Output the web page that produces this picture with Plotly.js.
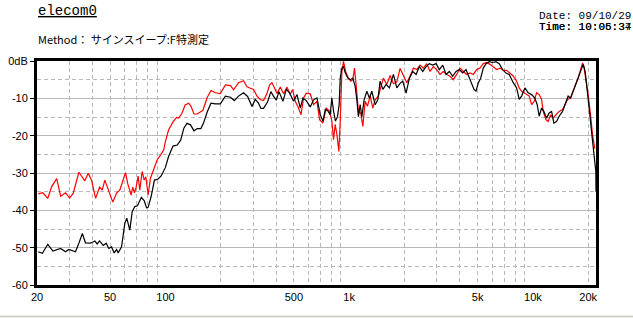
<!DOCTYPE html>
<html>
<head>
<meta charset="utf-8">
<script src="https://cdn.plot.ly/plotly-3.0.1.min.js"></script>
<style>html,body{margin:0;padding:0;background:#fff;}#chart{width:633px;height:318px;}</style>
</head>
<body>
<div id="chart"></div>
<script>
// ---- data ----
const redFreq = [20.3,21.5,22.9,24.0,25.6,26.9,28.6,30.1,31.5,33.8,36.4,38.0,39.6,41.7,43.8,45.3,46.8,49.2,51.7,54.2,56.4,58.2,60.6,62.4,65.1,66.4,67.8,69.3,71.0,72.5,74.7,76.6,78.2,80.5,82.9,86.4,90.1,94.5,97.9,100,104,110,115,118,123,128,134,138,143,149,155,160,169,177,187,199,212,226,235,250,266,278,290,302,315,328,342,357,369,380,393,405,422,440,459,478,492,509,530,547,565,584,614,640,668,690,720,750,782,805,822,839,857,879,894,913,931,960,991,1021,1047,1069,1091,1123,1157,1187,1222,1258,1301,1345,1385,1443,1487,1537,1603,1671,1741,1817,1893,1973,2059,2146,2237,2334,2432,2534,2645,2755,2872,2997,3123,3255,3396,3539,3688,3848,4011,4180,4362,4546,4737,4943,5152,5370,5603,5839,6085,6349,6618,6896,7196,7499,7815,8155,8424,8681,8935,9242,9548,9838,10160,10470,10820,11150,11380,11770,12110,12480,12890,13340,13900,14500,14930,15440,16030,16560,17130,17630,18170,18630,18930,19410,19980,20590,21110,21730];
const redDb = [-35.6,-35.3,-36.8,-33.7,-31.5,-36.2,-35.3,-36.7,-35.4,-29.8,-32.1,-30.1,-31.9,-36.8,-33.8,-34.6,-31.9,-34.6,-37.8,-35.4,-34.6,-32.6,-29.9,-32.9,-35.9,-33.8,-35.3,-33.8,-30.8,-34.6,-29.6,-31.9,-31.0,-35.9,-31.4,-29.0,-26.5,-25.0,-23.8,-21.5,-18.5,-16.3,-15.1,-15.3,-14.0,-11.8,-11.3,-12.2,-14.2,-14.2,-13.6,-13.2,-9.7,-7.9,-8.5,-8.7,-6.4,-6.6,-7.7,-5.8,-5.3,-6.9,-7.3,-7.6,-9.4,-10.3,-10.6,-8.7,-6.4,-5.8,-7.3,-8.7,-7.0,-8.8,-7.0,-9.0,-7.6,-10.8,-12.6,-14.4,-9.9,-8.6,-8.8,-11.7,-10.8,-15.7,-16.6,-12.6,-13.4,-16.1,-21.1,-17.0,-19.6,-24.2,-16.1,-2.8,-0.1,-3.1,-4.6,-5.4,-5.0,-1.9,-6.3,-13.5,-14.0,-17.5,-10.8,-12.1,-9.4,-12.6,-10.4,-9.4,-7.0,-4.6,-6.3,-3.9,-6.1,-5.6,-2.0,-3.8,-5.8,-4.1,-1.9,-2.3,-1.1,-1.9,-0.7,-2.8,-1.5,-2.3,-3.6,-2.8,-3.6,-4.1,-5.0,-3.6,-1.9,-2.8,-3.6,-3.2,-3.6,-2.3,-1.9,-0.7,-0.4,-0.9,-1.5,-2.3,-1.9,-2.5,-2.5,-3.2,-4.0,-5.4,-7.2,-8.1,-8.5,-9.0,-9.4,-11.7,-10.8,-8.5,-9.0,-10.3,-13.5,-15.7,-16.2,-14.4,-15.3,-14.4,-13.5,-13.0,-11.7,-10.3,-9.9,-8.1,-6.7,-4.6,-2.3,-0.5,-1.4,-4.6,-9.0,-14.4,-19.7,-23.5];

const blackFreq = [20.3,21.4,22.9,24.4,26.9,28.6,29.8,32.4,33.8,35.3,36.7,39.1,41.3,42.5,43.8,45.9,47.6,49.2,50.9,52.6,54.2,55.3,57.7,60.1,61.6,64.0,65.9,68.1,70.4,74.0,76.6,78.9,80.5,83.6,87.1,91.3,94.8,100,104,110,116,121,126,131,137,143,149,156,161,169,177,187,199,212,226,237,250,266,280,296,308,321,331,342,360,375,388,401,415,425,436,455,474,498,520,542,560,584,614,640,668,696,720,741,766,788,805,822,842,864,882,894,913,931,951,984,1013,1047,1078,1101,1123,1148,1172,1206,1248,1289,1328,1385,1432,1474,1525,1589,1656,1741,1817,1893,1958,2041,2127,2220,2313,2411,2515,2622,2732,2851,2971,3096,3231,3367,3509,3661,3815,3977,4149,4324,4506,4644,4780,4900,5043,5197,5370,5554,5788,6039,6294,6560,6844,7134,7433,7815,8155,8424,8681,9047,9430,9838,10250,10550,10820,11150,11470,11870,12260,12640,13000,13450,13900,14500,15110,15550,16030,16560,17130,17630,18170,18770,19240,19730,20230,20840,21460,22000,22050];
const blackDb = [-51.1,-51.5,-49.1,-50.9,-50.2,-51.1,-50.5,-51.1,-48.8,-46.2,-48.7,-48.8,-48.2,-49.0,-48.2,-49.4,-48.8,-50.2,-49.8,-51.4,-50.5,-51.4,-49.8,-43.5,-42.1,-45.3,-40.4,-39.0,-38.8,-36.5,-37.4,-39.3,-39.2,-36.3,-31.9,-31.6,-30.8,-28.5,-25.6,-22.8,-22.5,-21.2,-18.0,-16.7,-17.1,-18.7,-18.1,-18.1,-16.7,-13.6,-11.3,-11.5,-11.5,-9.4,-9.7,-10.6,-9.4,-8.5,-9.5,-12.2,-10.3,-11.3,-12.7,-12.7,-10.9,-8.2,-9.5,-10.5,-8.2,-9.7,-10.8,-7.6,-8.5,-10.8,-9.0,-12.6,-9.9,-10.6,-12.3,-10.4,-9.9,-14.4,-16.1,-13.0,-13.4,-14.4,-9.9,-13.4,-16.1,-14.9,-11.7,-4.6,-1.9,-1.5,-3.1,-4.6,-5.0,-4.6,-6.8,-10.4,-14.9,-11.7,-14.9,-10.4,-8.1,-9.9,-8.1,-11.7,-10.4,-5.4,-7.6,-6.3,-7.2,-3.6,-7.2,-6.0,-5.4,-8.6,-4.6,-2.8,-3.6,-1.5,-2.8,-1.5,-0.7,-1.1,-0.7,-2.3,-1.1,-3.6,-2.8,-4.1,-2.8,-2.3,-3.2,-2.3,-4.6,-6.3,-7.6,-8.1,-5.9,-4.6,-1.9,-0.7,-0.2,-0.4,-0.2,-0.7,-2.3,-3.2,-3.6,-5.8,-7.2,-10.3,-9.4,-7.2,-8.5,-9.0,-9.9,-11.7,-14.8,-12.6,-13.5,-15.3,-13.9,-13.5,-16.6,-16.2,-14.8,-13.5,-10.8,-9.4,-9.9,-8.1,-6.3,-4.6,-2.7,-0.9,-2.7,-7.2,-12.6,-18.8,-24.1,-29.6,-35.0];

const xLabelVals = [20,50,100,500,1000,5000,10000,20000];
const xLabelText = ['20','50','100','500','1k','5k','10k','20k'];
const xSolidGrid = [100,1000,10000];
const xDashGrid = [30,40,50,60,70,80,90,200,300,400,500,600,700,800,900,2000,3000,4000,5000,6000,7000,8000,9000,20000];
const yTickVals = [0,-10,-20,-30,-40,-50,-60];
const yTickText = ['0dB','-10','-20','-30','-40','-50','-60'];
const yDashGrid = [-5,-15,-25,-35,-45,-55];

const GRID = '#b8b8b8';
const XR = [Math.log10(20), Math.log10(22050)];

const traces = [
  {x: redFreq, y: redDb, type: 'scatter', mode: 'lines', line: {color: '#ff0000', width: 1.2}, hoverinfo: 'skip'},
  {x: blackFreq, y: blackDb, type: 'scatter', mode: 'lines', line: {color: '#000000', width: 1.2}, hoverinfo: 'skip'}
];

const layout = {
  width: 633, height: 318,
  margin: {l: 37, r: 37, t: 61, b: 33},
  paper_bgcolor: '#ffffff', plot_bgcolor: '#ffffff',
  showlegend: false,
  font: {family: 'Liberation Sans, Arial, sans-serif', size: 11, color: '#000'},
  xaxis: {
    type: 'log', range: XR,
    tickmode: 'array', tickvals: xLabelVals, ticktext: xLabelText,
    showgrid: false, zeroline: false,
    showline: true, mirror: true, linecolor: '#000', linewidth: 3,
    ticks: '', tickfont: {family: 'Liberation Sans, Arial, sans-serif', size: 11},
    minor: {tickmode: 'array', tickvals: xDashGrid, showgrid: true, gridcolor: GRID, griddash: '4px,3px', gridwidth: 1, ticks: ''}
  },
  xaxis2: {
    type: 'log', range: XR, overlaying: 'x', anchor: 'y', side: 'bottom',
    tickmode: 'array', tickvals: xSolidGrid, showticklabels: false,
    showgrid: true, gridcolor: GRID, gridwidth: 1, zeroline: false, showline: false, ticks: ''
  },
  yaxis: {
    range: [-60, 0],
    tickmode: 'array', tickvals: yTickVals, ticktext: yTickText,
    showgrid: true, gridcolor: GRID, gridwidth: 1, zeroline: false,
    showline: true, mirror: true, linecolor: '#000', linewidth: 3,
    ticks: 'outside', ticklen: 4, tickcolor: '#000', tickwidth: 1,
    tickfont: {family: 'Liberation Sans, Arial, sans-serif', size: 11},
    minor: {tickmode: 'array', tickvals: yDashGrid, showgrid: true, gridcolor: GRID, griddash: '4px,3px', gridwidth: 1, ticks: ''}
  },
  annotations: [
    {text: '<u>elecom0</u>', xref: 'paper', yref: 'paper', x: -0.002, y: 1.223, xanchor: 'left', yanchor: 'middle', showarrow: false,
     font: {family: 'Liberation Mono, DejaVu Sans Mono, monospace', size: 14, color: '#000'}},
    {text: 'Method： サインスイープ:F特測定', xref: 'paper', yref: 'paper', x: -0.002, y: 1.098, xanchor: 'left', yanchor: 'middle', showarrow: false,
     font: {family: 'Noto Sans CJK JP, sans-serif', size: 11, color: '#000'}},
    {text: 'Date: 09/10/29', xref: 'paper', yref: 'paper', x: 0.894, y: 1.201, xanchor: 'left', yanchor: 'middle', showarrow: false,
     font: {family: 'Liberation Mono, monospace', size: 11, color: '#000'}},
    {text: 'Time: 10:05:34', xref: 'paper', yref: 'paper', x: 0.894, y: 1.154, xanchor: 'left', yanchor: 'middle', showarrow: false,
     font: {family: 'Liberation Mono, monospace', size: 11, color: '#000'}},
    {text: 'Time: 10:06:37', xref: 'paper', yref: 'paper', x: 0.894, y: 1.154, xanchor: 'left', yanchor: 'middle', showarrow: false,
     font: {family: 'Liberation Mono, monospace', size: 11, color: '#000'}}
  ],
  shapes: [
    {type: 'line', xref: 'paper', yref: 'paper', x0: -0.07, x1: 1.07, y0: -0.141, y1: -0.141, line: {color: '#d4d0c8', width: 2}}
  ]
};

Plotly.newPlot('chart', traces, layout, {staticPlot: true, displayModeBar: false});
</script>
</body>
</html>
